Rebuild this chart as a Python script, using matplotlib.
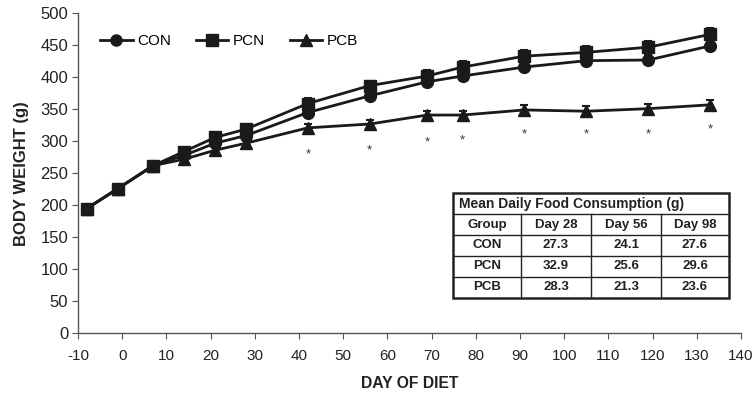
import matplotlib
matplotlib.use("Agg")
import matplotlib.pyplot as plt
from matplotlib.patches import Rectangle
from matplotlib.lines import Line2D

plt.rcParams['font.family'] = ['Liberation Sans', 'DejaVu Sans']
plt.rcParams['axes.unicode_minus'] = False

days = [-8, -1, 7, 14, 21, 28, 42, 56, 69, 77, 91, 105, 119, 133]
con = [195, 226, 262, 278, 297, 309, 345, 371, 393, 402, 416, 426, 427, 449]
pcn = [195, 226, 262, 284, 306, 319, 359, 387, 402, 416, 433, 439, 447, 467]
pcb = [195, 226, 262, 272, 286, 297, 321, 327, 341, 341, 349, 347, 351, 357]
con_err = [3, 3, 3, 4, 4, 4, 5, 5, 6, 6, 6, 6, 6, 6]
pcn_err = [3, 3, 3, 5, 6, 6, 8, 8, 9, 9, 9, 10, 10, 10]
pcb_err = [3, 3, 3, 4, 5, 5, 6, 6, 7, 7, 7, 8, 8, 8]
star_days = [42, 56, 69, 77, 91, 105, 119, 133]
star_y = [280, 286, 298, 302, 311, 311, 311, 318]

table_title = "Mean Daily Food Consumption (g)"
table_header = ["Group", "Day 28", "Day 56", "Day 98"]
table_groups = ["CON", "PCN", "PCB"]
table_values = [[27.3, 24.1, 27.6],
                [32.9, 25.6, 29.6],
                [28.3, 21.3, 23.6]]

W, H = 755, 397
fig = plt.figure(figsize=(W / 100, H / 100), dpi=100)
ax = fig.add_axes([78 / W, 1 - 333.3 / H, (741 - 78) / W, (333.3 - 13.3) / H])

col = '#1a1a1a'
kw = dict(color=col, lw=2, ms=8.5, capsize=3, capthick=1.5, elinewidth=1.5)
ax.errorbar(days, con, yerr=con_err, marker='o', label='CON', **kw)
ax.errorbar(days, pcn, yerr=pcn_err, marker='s', label='PCN', **kw)
ax.errorbar(days, pcb, yerr=pcb_err, marker='^', label='PCB', **kw)

for d, y in zip(star_days, star_y):
    ax.text(d, y, '*', ha='center', va='center', fontsize=9.5, color='#333333')

ax.set_xlim(-10, 140)
ax.set_ylim(0, 500)
ax.set_xticks(range(-10, 141, 10))
ax.set_yticks(range(0, 501, 50))
for s in ['top', 'right']:
    ax.spines[s].set_visible(False)
for s in ['left', 'bottom']:
    ax.spines[s].set_color('#555555')
    ax.spines[s].set_linewidth(1)
ax.tick_params(axis='both', color='#555555', length=4, labelcolor='#222222')
ax.tick_params(axis='y', labelsize=12, pad=3)
ax.tick_params(axis='x', labelsize=11, pad=7)
ax.set_xlabel('DAY OF DIET', fontsize=11.3, fontweight='bold', labelpad=10, color='#222222')
ax.set_ylabel('BODY WEIGHT (g)', fontsize=12, fontweight='bold', labelpad=8, color='#222222')

handles = [Line2D([0], [0], color=col, lw=2, marker=m, ms=8) for m in ['o', 's', '^']]
ax.legend(handles, ['CON', 'PCN', 'PCB'], loc='center left', ncol=3, frameon=False,
          fontsize=11, handlelength=2.15, handletextpad=0.3, columnspacing=1.6,
          borderpad=0, borderaxespad=0, bbox_to_anchor=(0.033, 0.913))

# table in pixel coordinates
def fx(px):
    return px / W

def fy(py):
    return 1 - py / H

left, right = 452.7, 729
cols_x = [452.7, 521, 591, 661, 729]
rows_y = [193.3, 214.3, 235, 255.5, 276.7, 298.3]
fig.add_artist(Rectangle((fx(left), fy(rows_y[-1])), fx(right) - fx(left),
                         fy(rows_y[0]) - fy(rows_y[-1]), transform=fig.transFigure,
                         facecolor='white', edgecolor='#222222', lw=1.8))
for yy in rows_y[1:-1]:
    fig.add_artist(Line2D([fx(left), fx(right)], [fy(yy), fy(yy)],
                          transform=fig.transFigure, color='#222222', lw=1))
for xx in cols_x[1:-1]:
    fig.add_artist(Line2D([fx(xx), fx(xx)], [fy(rows_y[1]), fy(rows_y[-1])],
                          transform=fig.transFigure, color='#222222', lw=1))
fig.text(fx(left + 6), fy((rows_y[0] + rows_y[1]) / 2), table_title, ha='left', va='center',
         fontsize=10, fontweight='bold', color='#222222')
for j, h in enumerate(table_header):
    fig.text(fx((cols_x[j] + cols_x[j + 1]) / 2), fy((rows_y[1] + rows_y[2]) / 2), h,
             ha='center', va='center', fontsize=9.5, fontweight='bold', color='#222222')
for i, g in enumerate(table_groups):
    yc = fy((rows_y[i + 2] + rows_y[i + 3]) / 2)
    fig.text(fx((cols_x[0] + cols_x[1]) / 2), yc, g, ha='center', va='center',
             fontsize=9.5, fontweight='bold', color='#222222')
    for j, v in enumerate(table_values[i]):
        fig.text(fx((cols_x[j + 1] + cols_x[j + 2]) / 2), yc, f"{v:.1f}", ha='center',
                 va='center', fontsize=9.5, fontweight='bold', color='#222222')

fig.savefig('out.png', dpi=100)
